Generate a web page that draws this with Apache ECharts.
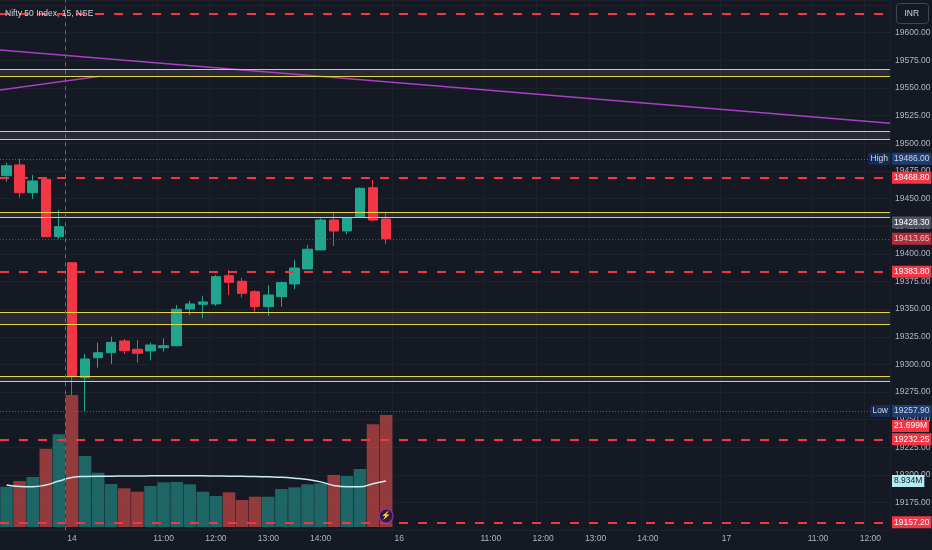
<!DOCTYPE html>
<html>
<head>
<meta charset="utf-8">
<script src="https://cdn.jsdelivr.net/npm/echarts@6/dist/echarts.min.js"></script>
<style>
  html, body { margin: 0; padding: 0; background: #151924; }
  #chart { width: 932px; height: 550px; }
</style>
</head>
<body>
<div id="chart"></div>
<script>
// 时间槽 (15 分钟)
var day13Slots = ['14:15', '14:30', '14:45', '15:00', '15:15']
var daySlots = ['09:15', '09:30', '09:45', '10:00', '10:15', '10:30', '10:45', '11:00', '11:15', '11:30', '11:45', '12:00', '12:15',
  '12:30', '12:45', '13:00', '13:15', '13:30', '13:45', '14:00', '14:15', '14:30', '14:45', '15:00', '15:15']
var day17Slots = ['09:15', '09:30', '09:45', '10:00', '10:15', '10:30', '10:45', '11:00', '11:15', '11:30', '11:45', '12:00', '12:15']

// x 轴标签
var labelSlots = ['14 09:15', '14 11:00', '14 12:00', '14 13:00', '14 14:00', '16 09:15', '16 11:00', '16 12:00', '16 13:00', '16 14:00', '17 09:15', '17 11:00', '17 12:00']
var labelTexts = ['14', '11:00', '12:00', '13:00', '14:00', '16', '11:00', '12:00', '13:00', '14:00', '17', '11:00', '12:00']

// K 线数据
var opens = [19470.7, 19480.4, 19455.3, 19467.4, 19415.5, 19392.0, 19288.0, 19306.1, 19310.6, 19321.2, 19313.7, 19312.2, 19315.1, 19316.9, 19350.1,
  19354.4, 19354.7, 19380.3, 19375.2, 19365.8, 19352.2, 19361.3, 19372.8, 19386.3, 19403.5, 19430.6, 19420.7, 19433.6, 19459.8, 19431.5]
var closes = [19479.7, 19455.3, 19465.9, 19415.5, 19424.6, 19288.9, 19304.9, 19310.6, 19320.0, 19312.4, 19310.1, 19317.6, 19316.9, 19349.9, 19354.7,
  19356.5, 19379.4, 19374.3, 19364.3, 19352.2, 19362.8, 19374.0, 19387.2, 19404.2, 19430.6, 19420.7, 19432.7, 19459.3, 19430.6, 19413.65]
var lows = [19465.3, 19450.8, 19449.6, 19415.2, 19413.4, 19272.0, 19257.9, 19297.1, 19300.4, 19309.5, 19301.6, 19303.7, 19311.5, 19316.7, 19344.7,
  19341.7, 19352.9, 19362.8, 19360.7, 19347.7, 19343.8, 19352.2, 19368.0, 19386.3, 19403.5, 19407.1, 19417.9, 19433.3, 19429.1, 19409.0]
var highs = [19482.4, 19486.0, 19471.3, 19468.6, 19439.7, 19392.6, 19309.5, 19319.7, 19325.1, 19323.0, 19322.1, 19319.7, 19323.6, 19353.8, 19357.6,
  19362.2, 19380.9, 19385.4, 19378.4, 19367.3, 19371.8, 19374.8, 19394.7, 19408.0, 19432.2, 19437.2, 19433.3, 19460.0, 19466.8, 19437.2]

// 成交量 (百万) 与均线
var volumes = [7.81, 8.91, 9.69, 15.17, 17.96, 25.58, 13.76, 10.52, 8.33, 7.50, 6.84, 7.95, 8.66, 8.72, 8.28,
  6.84, 6.01, 6.72, 5.23, 5.87, 5.87, 7.36, 7.69, 8.28, 8.47, 10.08, 9.88, 11.24, 19.90, 21.699]
var volumeMA = [8.14, 7.85, 7.81, 8.14, 8.9, 9.6, 9.8, 9.85, 9.85, 9.9, 9.9, 9.92, 9.94, 9.94, 9.94,
  9.92, 9.9, 9.86, 9.83, 9.78, 9.72, 9.63, 9.45, 9.2, 8.75, 8.05, 7.78, 7.78, 8.4, 8.934]

// 画线
var dashedLevels = [19616.9, 19468.8, 19383.8, 19232.25, 19157.2]
var dashedLabels = ['', '19468.80', '19383.80', '19232.25', '19157.20']
var zonePairs = [[19567.2, 19560.4], [19510.7, 19503.9], [19437.9, 19432.9], [19347.0, 19336.6], [19289.6, 19284.6]]
var trendA = [[0, 19584.4], [68, 19518.1]]
var trendB = [[0, 19548.2], [7.49, 19560.4]]
var crossX = 5.02
var dayHigh = 19486.0
var dayLow = 19257.9
var lastPrice = 19413.65
var prevLevel = 19428.3

var font = '"Liberation Sans", Roboto, sans-serif'
var fs = 8.5
var upColor = '#1fa68d'
var downColor = '#f23645'

var categories = []
day13Slots.forEach(function (t) { categories.push('13 ' + t) })
daySlots.forEach(function (t) { categories.push('14 ' + t) })
daySlots.forEach(function (t) { categories.push('16 ' + t) })
day17Slots.forEach(function (t) { categories.push('17 ' + t) })

var candleData = []
var volumeData = []
for (var i = 0; i < opens.length; i++) {
  candleData.push([opens[i], closes[i], lows[i], highs[i]])
  var up = closes[i] >= opens[i]
  volumeData.push({
    value: volumes[i],
    itemStyle: { color: up ? 'rgba(38,166,154,0.55)' : 'rgba(239,83,80,0.58)' }
  })
}

function showLabel(index) {
  return labelSlots.indexOf(categories[index]) >= 0
}

function box(text, bg, fg) {
  return {
    show: true,
    position: 'end',
    distance: 2,
    formatter: text,
    backgroundColor: bg,
    color: fg || '#ffffff',
    padding: [1, 2, 1, 2],
    fontSize: fs,
    lineHeight: 10,
    fontFamily: font
  }
}

var dashedRed = { color: '#f23645', width: 2, type: [9, 10] }
var hidden = { color: 'rgba(0,0,0,0)', width: 0 }

var priceLines = []
for (var k = 0; k < dashedLevels.length; k++) {
  priceLines.push({
    yAxis: dashedLevels[k],
    lineStyle: dashedRed,
    label: dashedLabels[k] ? box(dashedLabels[k], '#f23645') : { show: false }
  })
}
zonePairs.forEach(function (p) {
  priceLines.push({ yAxis: p[0], lineStyle: { color: '#e3d44c', width: 1, type: 'solid' }, label: { show: false } })
  priceLines.push({ yAxis: p[1], lineStyle: { color: '#e3d44c', width: 1, type: 'solid' }, label: { show: false } })
})
priceLines.push({ yAxis: dayHigh, lineStyle: { color: '#5d606b', width: 1, type: [1, 2] }, label: box(dayHigh.toFixed(2), '#1e3d73', '#d1d4dc') })
priceLines.push({ yAxis: dayHigh, lineStyle: hidden, label: Object.assign(box('High', '#162c57', '#d1d4dc'), { position: 'insideEnd', distance: 0 }) })
priceLines.push({ yAxis: dayLow, lineStyle: { color: '#5d606b', width: 1, type: [1, 2] }, label: box(dayLow.toFixed(2), '#1e3d73', '#d1d4dc') })
priceLines.push({ yAxis: dayLow, lineStyle: hidden, label: Object.assign(box('Low', '#162c57', '#d1d4dc'), { position: 'insideEnd', distance: 0 }) })
priceLines.push({ yAxis: lastPrice, lineStyle: { color: '#f23645', width: 1, type: [1, 2], opacity: 0.7 }, label: box(lastPrice.toFixed(2), '#f23645') })
priceLines.push({ yAxis: prevLevel, lineStyle: hidden, label: box(prevLevel.toFixed(2), '#50535e') })

var zones = zonePairs.map(function (p) {
  return [{ yAxis: p[0] }, { yAxis: p[1] }]
})

var chart = echarts.init(document.getElementById('chart'))
var option = {
  backgroundColor: '#151924',
  animation: false,
  title: {
    text: 'Nifty 50 Index, 15, NSE',
    left: 5,
    top: 9,
    padding: 0,
    textStyle: { color: '#d1d4dc', fontSize: 8.5, fontWeight: 'normal', fontFamily: font }
  },
  graphic: [{
    type: 'group',
    right: 3,
    top: 3,
    children: [
      { type: 'rect', shape: { x: 0, y: 0, width: 32, height: 20, r: 3 }, style: { fill: '#151924', stroke: '#434651', lineWidth: 1 } },
      { type: 'text', left: 8, top: 6, style: { text: 'INR', fill: '#d1d4dc', fontSize: 8.5, fontFamily: font } }
    ]
  }],
  grid: [
    { left: 0, right: 42, top: 0, bottom: 19.7, outerBoundsMode: 'none', containLabel: false },
    { left: 0, right: 42, top: 380, bottom: 23, outerBoundsMode: 'none', containLabel: false }
  ],
  xAxis: [
    {
      type: 'category',
      gridIndex: 0,
      data: categories,
      boundaryGap: true,
      axisLine: { show: false },
      axisTick: { show: false },
      axisLabel: {
        interval: function (index) { return showLabel(index) },
        formatter: function (val) { return labelTexts[labelSlots.indexOf(val)] },
        color: '#b2b5be',
        fontSize: fs,
        margin: 4,
        fontFamily: font
      },
      splitLine: {
        show: true,
        interval: function (index) { return showLabel(index) },
        lineStyle: { color: '#1d212c' }
      }
    },
    { type: 'value', gridIndex: 0, min: 0, max: 68, show: false },
    { type: 'category', gridIndex: 1, data: categories, boundaryGap: true, show: false }
  ],
  yAxis: [
    {
      type: 'value',
      gridIndex: 0,
      position: 'right',
      min: 19150,
      max: 19629.57,
      interval: 25,
      axisLine: { show: false },
      axisTick: { show: false },
      axisLabel: {
        color: '#b2b5be',
        fontSize: fs,
        margin: 5,
        fontFamily: font,
        formatter: function (v) { return (v < 19175 || v > 19600) ? '' : v.toFixed(2) }
      },
      splitLine: { lineStyle: { color: '#1d212c' } }
    },
    { type: 'value', gridIndex: 1, min: 0, max: 28.5, show: false }
  ],
  series: [
    {
      name: 'Volume',
      type: 'bar',
      xAxisIndex: 2,
      yAxisIndex: 1,
      data: volumeData,
      barCategoryGap: '4%',
      z: 1,
      markLine: {
        silent: true,
        symbol: ['none', 'none'],
        data: [{ yAxis: 21.699, lineStyle: hidden, label: Object.assign(box('21.699M', '#f23645'), { offset: [0, 11] }) }]
      },
      markPoint: {
        silent: true,
        data: [{ coord: [29, 2.13] }],
        symbol: 'circle',
        symbolSize: 14,
        itemStyle: { color: '#2a1f3d', borderColor: '#9c27b0', borderWidth: 1.2 },
        label: { show: true, formatter: '\u26A1', color: '#c77dff', fontSize: 8 }
      }
    },
    {
      name: 'Volume MA',
      type: 'line',
      xAxisIndex: 2,
      yAxisIndex: 1,
      data: volumeMA,
      smooth: true,
      showSymbol: false,
      z: 2,
      lineStyle: { color: '#c9eef2', width: 1.5 },
      markLine: {
        silent: true,
        symbol: ['none', 'none'],
        data: [{ yAxis: 8.934, lineStyle: hidden, label: box('8.934M', '#b2ebf2', '#131722') }]
      }
    },
    {
      name: 'Nifty 50',
      type: 'candlestick',
      xAxisIndex: 0,
      yAxisIndex: 0,
      data: candleData,
      barWidth: '76%',
      z: 4,
      itemStyle: {
        color: upColor,
        color0: downColor,
        borderColor: upColor,
        borderColor0: downColor,
        borderWidth: 1
      },
      markArea: {
        silent: true,
        itemStyle: { color: 'rgba(120,123,134,0.18)' },
        data: zones
      },
      markLine: {
        silent: true,
        symbol: ['none', 'none'],
        data: priceLines
      }
    },
    {
      name: 'Trend A',
      type: 'line',
      xAxisIndex: 1,
      yAxisIndex: 0,
      data: trendA,
      showSymbol: false,
      z: 3,
      lineStyle: { color: '#a83fc4', width: 1.5 },
      markLine: {
        silent: true,
        symbol: ['none', 'none'],
        data: [{ xAxis: crossX, lineStyle: { color: '#5e6a92', width: 1, type: [4, 4] }, label: { show: false } }]
      }
    },
    {
      name: 'Trend B',
      type: 'line',
      xAxisIndex: 1,
      yAxisIndex: 0,
      data: trendB,
      showSymbol: false,
      z: 3,
      lineStyle: { color: '#a83fc4', width: 1.5 }
    }
  ]
}
chart.setOption(option)
</script>
</body>
</html>
